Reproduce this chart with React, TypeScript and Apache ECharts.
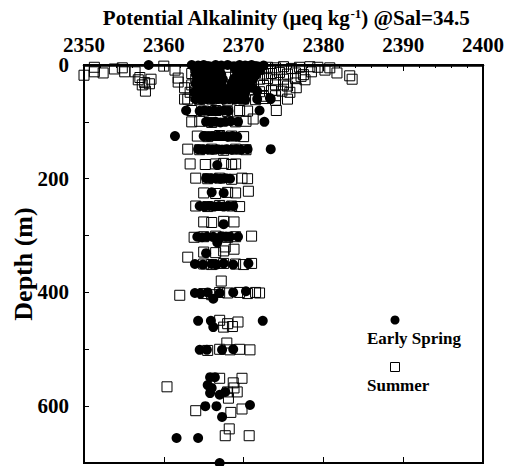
import React, { useEffect, useRef } from "react";
import * as echarts from "echarts";

const xTicks = [2350, 2360, 2370, 2380, 2390, 2400];
const yTicks = [0, 200, 400, 600];

// [alkalinity, depth]
const springPoints: [number, number][] = [
  [2358.1, 0],
  [2363.5, 0], [2364.3, 1], [2365, 0], [2365.7, 2], [2366.5, 0], [2367.2, 1], [2368, 0], [2368.8, 2], [2369.5, 0], [2370.2, 1], [2371, 0], [2371.7, 2], [2372.5, 1],
  [2364, 8], [2364.8, 9], [2365.5, 8], [2366.3, 7], [2367, 9], [2369, 8], [2369.8, 9], [2370.5, 7], [2371.3, 8], [2372, 9],
  [2364, 16], [2364.8, 17], [2365.6, 15], [2366.4, 16], [2367.2, 17], [2369.2, 16], [2370, 15], [2370.8, 17], [2371.6, 16],
  [2364.2, 24], [2365, 25], [2365.8, 23], [2366.6, 24], [2367.4, 25], [2368.8, 24], [2369.6, 23], [2370.4, 25], [2371.2, 24],
  [2364, 32], [2364.8, 33], [2365.6, 31], [2366.4, 32], [2367.2, 33], [2368.5, 32], [2369.3, 31], [2370.1, 33], [2370.9, 32],
  [2364.3, 40], [2365.1, 41], [2365.9, 39], [2366.7, 40], [2367.5, 41], [2368.3, 40], [2369.1, 39], [2369.9, 41], [2371, 40],
  [2363.8, 48], [2364.6, 49], [2365.4, 47], [2366.2, 48], [2367, 49], [2367.8, 48], [2368.6, 47], [2369.4, 49], [2370.2, 48], [2371.7, 46],
  [2373.3, 58],
  [2364, 60], [2364.7, 61], [2365.4, 60], [2366.1, 61], [2366.8, 60], [2367.5, 61], [2368.2, 60], [2368.9, 61], [2369.6, 60], [2370.2, 61], [2371.7, 60], [2373.4, 60],
  [2362.8, 80], [2364.5, 81], [2365.1, 80], [2365.7, 81], [2366.3, 80], [2366.9, 81], [2367.5, 80], [2368.1, 81], [2372, 80],
  [2365.3, 100], [2365.9, 101], [2366.5, 100], [2367.1, 101], [2367.7, 100], [2368.4, 99], [2369.3, 100], [2372.6, 100],
  [2361.4, 125], [2365, 125], [2365.6, 126], [2366.2, 125], [2366.8, 124], [2367.4, 125], [2368, 126], [2368.6, 125], [2369.2, 126],
  [2364.3, 148], [2364.9, 149], [2365.5, 148], [2366.1, 149], [2366.7, 148], [2367.3, 149], [2367.9, 148], [2368.5, 149], [2369.1, 148], [2369.7, 149], [2370.5, 148], [2373.4, 148],
  [2366.7, 176],
  [2365.3, 199], [2365.9, 200], [2366.5, 199], [2367.1, 200], [2367.7, 199], [2368.3, 200],
  [2366, 224], [2367.5, 225],
  [2364.5, 248], [2365.1, 249], [2365.7, 248], [2366.3, 249], [2366.9, 248], [2367.5, 249], [2368.1, 248], [2368.7, 248],
  [2367.5, 280],
  [2364.2, 302], [2364.8, 303], [2365.4, 302], [2366.2, 302], [2367.2, 301], [2367.8, 302], [2368.3, 302], [2369.3, 302], [2366.7, 312],
  [2365.3, 331],
  [2363.9, 350], [2364.9, 351], [2366, 350], [2366.6, 351], [2367.5, 349], [2368.7, 351], [2370.6, 349],
  [2363.9, 401], [2364.6, 402], [2365.5, 400], [2366.2, 411], [2367, 401], [2368.7, 400], [2370.3, 398],
  [2364.3, 450], [2365.9, 450], [2366.2, 461], [2372.4, 450],
  [2364.5, 501], [2365.4, 501], [2367.3, 501], [2368.7, 500],
  [2365.8, 549], [2366.4, 549], [2365.5, 563], [2366, 568], [2365.8, 577], [2367, 580], [2367.7, 575],
  [2365.2, 600], [2366.6, 600], [2370.8, 598],
  [2367.3, 619],
  [2361.6, 656], [2364.3, 656],
  [2367, 700],
];

const summerPoints: [number, number][] = [
  [2350.0, 18], [2351.3, 4], [2351.3, 12], [2352.4, 14], [2353.8, 7], [2354.8, 5], [2355.1, 12], [2356.4, 12],
  [2356.8, 26], [2357.0, 22], [2357.3, 35], [2357.6, 31], [2357.7, 46], [2358.4, 25], [2358.2, 33], [2360.0, 2],
  [2361.4, 9], [2361.8, 23], [2361.8, 30], [2362.6, 40], [2363.3, 48], [2362.6, 60],
  [2364, 5], [2365, 3], [2366, 6], [2368, 4], [2370, 5], [2371, 3], [2372, 6], [2373, 4], [2374, 5], [2375, 3], [2376, 6], [2377, 4],
  [2363.5, 15], [2364.5, 14], [2366, 16], [2369, 15], [2371.5, 14], [2372.5, 16], [2373.5, 15], [2374.5, 13], [2375.5, 16], [2376.5, 14], [2377.5, 17],
  [2364, 25], [2365, 24], [2370.5, 26], [2372, 25], [2373, 24], [2374, 26], [2375, 25], [2376.5, 24],
  [2363.5, 35], [2364.5, 36], [2371, 34], [2372.5, 36], [2374, 35], [2375.5, 37],
  [2364, 45], [2365, 46], [2371, 44], [2372, 47], [2373.5, 45], [2374.8, 46],
  [2364, 55], [2365, 54], [2370, 56], [2372.5, 55], [2374, 54],
  [2378.3, 3], [2379.3, 4], [2380.2, 9], [2380.8, 5], [2381.7, 14], [2383.3, 19], [2383.6, 25],
  [2377.7, 26], [2376.6, 40], [2375.8, 48], [2375, 35], [2378.5, 12], [2377.2, 20],
  [2363, 60], [2364.5, 61], [2366, 60], [2368, 62], [2370, 60], [2371.5, 61], [2372.5, 59], [2374, 62], [2375.5, 60],
  [2363.5, 80], [2365, 81], [2366.5, 80], [2368, 82], [2369.5, 80], [2370.5, 81], [2374.1, 80],
  [2363.5, 100], [2364.5, 99], [2366, 101], [2369, 100], [2370.3, 99], [2371.2, 95],
  [2364.2, 125], [2365.5, 126], [2367, 124], [2368.5, 125], [2370, 126],
  [2363, 148], [2364.5, 149], [2366, 148], [2367.5, 150], [2369, 148], [2370.3, 149],
  [2363.3, 174], [2365.2, 175], [2366.5, 174], [2367.5, 173], [2368.5, 175], [2369, 174],
  [2364, 199], [2365.5, 200], [2367, 199], [2368.5, 201], [2369.8, 199], [2370.5, 200],
  [2365, 225], [2366.5, 226], [2368, 224], [2369, 225], [2370.6, 222],
  [2364, 248], [2365.5, 249], [2367, 247], [2368.5, 248], [2369.5, 249],
  [2365, 276], [2366, 277], [2367.5, 275], [2368.8, 276],
  [2363.8, 303], [2365, 302], [2366.5, 301], [2368, 303], [2369, 302], [2371, 301],
  [2363, 338], [2365, 329], [2366.5, 330], [2367.5, 327], [2368.8, 324], [2367.7, 320],
  [2365, 350], [2366, 351], [2367.5, 349], [2369, 350], [2370, 351], [2371, 349],
  [2367.2, 380],
  [2362, 405], [2365, 402], [2366, 404], [2367, 400], [2368, 401], [2369.5, 400], [2370.5, 402], [2371.5, 400], [2372, 401],
  [2367, 449], [2368, 455], [2369.3, 452], [2367.5, 461], [2368.6, 460],
  [2367.9, 489],
  [2365.5, 502], [2367, 500], [2368.3, 501], [2369.5, 500], [2370.8, 501],
  [2367, 551], [2369.8, 551], [2360.4, 566], [2368.7, 559], [2368, 575], [2369.2, 575], [2368.1, 586], [2368.8, 568],
  [2364, 608], [2368.4, 611], [2369.8, 605], [2368.2, 640], [2367.7, 652], [2370.7, 652],
];

const FONT = "'Liberation Serif', 'Times New Roman', serif";

export default function App() {
  const ref = useRef<HTMLDivElement>(null);
  useEffect(() => {
    document.body.style.margin = "0";
    if (!ref.current) return;
    const chart = echarts.init(ref.current, null, { renderer: "svg" });
    const xMin = xTicks[0];
    const xMax = xTicks[xTicks.length - 1];
    chart.setOption({
      animation: false,
      backgroundColor: "#fff",
      grid: {
        left: 84, top: 65, right: 23, bottom: 3,
        show: true, borderColor: "#000", borderWidth: 2,
        outerBoundsMode: "none",
      },
      xAxis: [
        {
          type: "value", position: "top", min: xMin, max: xMax, interval: 10,
          axisLine: { show: true, lineStyle: { color: "#000", width: 2.5 } },
          axisTick: { show: true, inside: true, length: 6, lineStyle: { color: "#000", width: 1 } },
          minorTick: { show: true, splitNumber: 5, length: 3, lineStyle: { color: "#000", width: 1 } },
          splitLine: { show: false },
          axisLabel: {
            show: true, margin: 10, color: "#000", fontFamily: FONT, fontWeight: "bold", fontSize: 21,
            formatter: (v: number) => (xTicks.includes(v) ? String(v) : ""),
          },
        },
        {
          type: "value", position: "bottom", min: xMin, max: xMax, interval: 10,
          axisLine: { show: true, lineStyle: { color: "#000", width: 2 } },
          axisTick: { show: true, inside: true, length: 6, lineStyle: { color: "#000", width: 1 } },
          splitLine: { show: false },
          axisLabel: { show: false },
        },
      ],
      yAxis: {
        type: "value", inverse: true, min: 0, max: 700, interval: 100,
        axisLine: { show: true, lineStyle: { color: "#000", width: 2 } },
        axisTick: { show: true, inside: true, length: 5, lineStyle: { color: "#000", width: 1 } },
        splitLine: { show: false },
        axisLabel: {
          show: true, margin: 15, color: "#000", fontFamily: FONT, fontWeight: "bold", fontSize: 21,
          formatter: (v: number) => (yTicks.includes(v) ? String(v) : ""),
        },
      },
      series: [
        {
          name: "Summer", type: "scatter", xAxisIndex: 0, symbol: "rect", symbolSize: 10,
          itemStyle: { color: "rgba(255,255,255,0)", borderColor: "#000", borderWidth: 1, opacity: 1 },
          data: summerPoints,
          z: 2,
        },
        {
          name: "Early Spring", type: "scatter", xAxisIndex: 0, symbol: "circle", symbolSize: 10,
          itemStyle: { color: "#000", opacity: 1 },
          data: springPoints,
          z: 3,
        },
      ],
      graphic: [
        {
          type: "text", x: 286, y: 18,
          style: {
            text: "Potential Alkalinity (μeq kg{sup|-1}) @Sal=34.5",
            fontFamily: FONT, fontWeight: "bold", fontSize: 21, fill: "#000",
            align: "center", verticalAlign: "middle",
            rich: {
              sup: { fontFamily: FONT, fontWeight: "bold", fontSize: 13, fill: "#000", verticalAlign: "top", padding: [0, 0, 10, 0] },
            },
          },
        },
        {
          type: "text", x: 23, y: 264, rotation: Math.PI / 2,
          style: {
            text: "Depth (m)", fontFamily: FONT, fontWeight: "bold", fontSize: 26, fill: "#000",
            align: "center", verticalAlign: "middle",
          },
        },
        { type: "circle", shape: { cx: 395, cy: 320, r: 4.5 }, style: { fill: "#000" } },
        {
          type: "text", x: 367, y: 338,
          style: { text: "Early Spring", fontFamily: FONT, fontWeight: "bold", fontSize: 17, fill: "#000", align: "left", verticalAlign: "middle" },
        },
        { type: "rect", shape: { x: 390.5, y: 362.5, width: 9, height: 9 }, style: { fill: "#fff", stroke: "#000", lineWidth: 1 } },
        {
          type: "text", x: 367, y: 385,
          style: { text: "Summer", fontFamily: FONT, fontWeight: "bold", fontSize: 17, fill: "#000", align: "left", verticalAlign: "middle" },
        },
      ],
    });
    return () => chart.dispose();
  }, []);
  return <div ref={ref} style={{ width: 506, height: 466 }} />;
}
